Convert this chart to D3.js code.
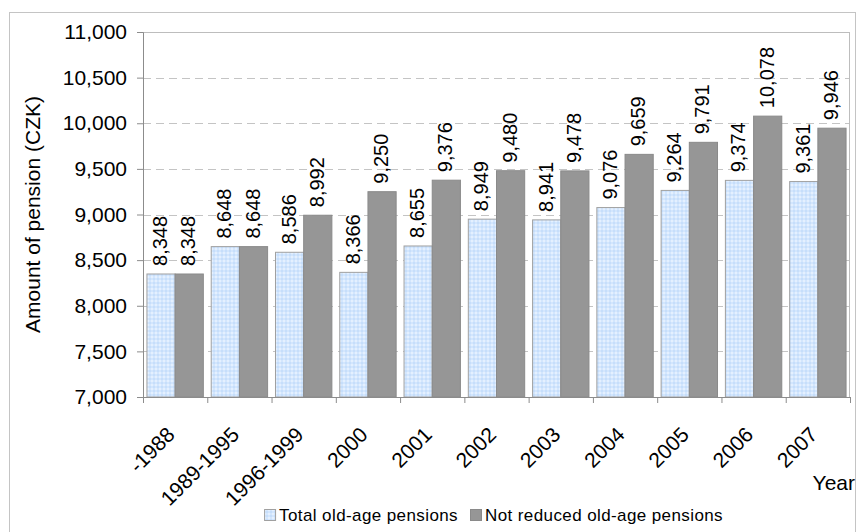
<!DOCTYPE html>
<html>
<head>
<meta charset="utf-8">
<script src="https://cdn.jsdelivr.net/npm/d3@7"></script>
<style>
  body { margin: 0; background: #fff; }
  svg { font-family: 'Liberation Sans', Arial, sans-serif; }
</style>
</head>
<body>
<div id="chart"></div>
<script>
const categories = ['-1988', '1989-1995', '1996-1999', '2000', '2001', '2002', '2003', '2004', '2005', '2006', '2007']
const totalPensions = [8348, 8648, 8586, 8366, 8655, 8949, 8941, 9076, 9264, 9374, 9361]
const notReduced = [8348, 8648, 8992, 9250, 9376, 9480, 9478, 9659, 9791, 10078, 9946]
const yTicks = [7000, 7500, 8000, 8500, 9000, 9500, 10000, 10500, 11000]
const seriesNames = ['Total old-age pensions', 'Not reduced old-age pensions']

const margin = { top: 32, left: 143, right: 8, bottom: 135 }
const width = 858 - margin.left - margin.right
const height = 532 - margin.top - margin.bottom

const svgRoot = d3
  .select('#chart')
  .append('svg')
  .attr('width', 858)
  .attr('height', 532)

const defs = svgRoot.append('defs')
const pat = defs
  .append('pattern')
  .attr('id', 'dots')
  .attr('width', 4)
  .attr('height', 4)
  .attr('patternUnits', 'userSpaceOnUse')
pat.append('rect').attr('width', 4).attr('height', 4).attr('fill', '#d3e6fd')
pat.append('rect').attr('width', 2).attr('height', 2).attr('fill', '#e4f0ff')
pat.append('rect').attr('x', 2).attr('y', 2).attr('width', 2).attr('height', 2).attr('fill', '#c6defb')

// outer chart border
svgRoot
  .append('rect')
  .attr('x', 9.5)
  .attr('y', 12.5)
  .attr('width', 846)
  .attr('height', 530)
  .attr('fill', 'none')
  .attr('stroke', '#c4c4c4')

const svg = svgRoot
  .append('g')
  .attr('transform', 'translate(' + margin.left + ',' + margin.top + ')')

const xPositionScale = d3.scaleBand().domain(categories).range([0, width])
const subScale = d3
  .scaleBand()
  .domain([0, 1])
  .range([0, xPositionScale.bandwidth()])
  .paddingOuter(0.14)
const yPositionScale = d3.scaleLinear().domain([7000, 11000]).range([height, 0])

// grid
svg
  .selectAll('.grid')
  .data(yTicks.filter(d => d > 7000 && d < 11000))
  .enter()
  .append('line')
  .attr('class', 'grid')
  .attr('x1', 0)
  .attr('x2', width)
  .attr('y1', d => Math.round(yPositionScale(d)) + 0.5)
  .attr('y2', d => Math.round(yPositionScale(d)) + 0.5)
  .attr('stroke', '#c4c4c4')
  .attr('stroke-dasharray', '8,5')

// plot border
svg
  .append('rect')
  .attr('x', 0.5)
  .attr('y', 0.5)
  .attr('width', width - 1)
  .attr('height', height)
  .attr('fill', 'none')
  .attr('stroke', '#bdbdbd')

const fmt = d3.format(',')

const seriesData = [totalPensions, notReduced]
const fills = ['url(#dots)', '#969696']
const strokes = ['#a0a0a0', '#8a8a8a']

seriesData.forEach((values, s) => {
  svg
    .selectAll('.bar-' + s)
    .data(values)
    .enter()
    .append('rect')
    .attr('class', 'bar-' + s)
    .attr('x', (d, i) => xPositionScale(categories[i]) + subScale(s))
    .attr('width', subScale.bandwidth())
    .attr('y', d => yPositionScale(d))
    .attr('height', d => height - yPositionScale(d))
    .attr('fill', fills[s])
    .attr('stroke', strokes[s])
    .attr('stroke-width', 1)

  const labels = svg
    .selectAll('.label-' + s)
    .data(values)
    .enter()
    .append('g')
    .attr('class', 'label-' + s)
    .attr('transform', (d, i) => {
      const x = xPositionScale(categories[i]) + subScale(s) + subScale.bandwidth() / 2 + 6
      const y = yPositionScale(d) - 8
      return 'translate(' + x + ',' + y + ')'
    })
  labels
    .append('text')
    .attr('transform', 'rotate(-90)')
    .attr('font-size', 20)
    .attr('fill', '#000')
    .text(d => fmt(d))
})

// y axis
const yAxis = d3
  .axisLeft(yPositionScale)
  .tickValues(yTicks)
  .tickFormat(fmt)
  .tickSize(6)
  .tickPadding(10)
svg
  .append('g')
  .attr('class', 'axis y-axis')
  .call(yAxis)
  .call(g => g.selectAll('line, path').attr('stroke', '#8c8c8c'))
  .call(g => g.selectAll('text').attr('font-size', 21).attr('fill', '#000').attr('font-family', null))

// x axis ticks at category boundaries
const xg = svg
  .append('g')
  .attr('class', 'axis x-axis')
  .attr('transform', 'translate(0,' + height + ')')
xg.append('line')
  .attr('x1', 0)
  .attr('x2', width)
  .attr('y1', 0.5)
  .attr('y2', 0.5)
  .attr('stroke', '#8c8c8c')
xg.selectAll('.tick')
  .data(categories.concat(['end']))
  .enter()
  .append('line')
  .attr('class', 'tick')
  .attr('x1', (d, i) => (i < categories.length ? xPositionScale(d) : width) + 0.5)
  .attr('x2', (d, i) => (i < categories.length ? xPositionScale(d) : width) + 0.5)
  .attr('y1', 0)
  .attr('y2', 6)
  .attr('stroke', '#8c8c8c')
xg.selectAll('.xlabel')
  .data(categories)
  .enter()
  .append('g')
  .attr('class', 'xlabel')
  .attr('transform', d => 'translate(' + (xPositionScale(d) + xPositionScale.bandwidth() / 2 + 1) + ',39)')
  .append('text')
  .attr('transform', 'rotate(-45)')
  .attr('text-anchor', 'end')
  .attr('font-size', 21)
  .attr('fill', '#000')
  .text(d => d)

// axis titles
svgRoot
  .append('text')
  .attr('transform', 'translate(40,' + (margin.top + height / 2) + ') rotate(-90)')
  .attr('text-anchor', 'middle')
  .attr('font-size', 21)
  .text('Amount of pension (CZK)')

svgRoot
  .append('text')
  .attr('x', 855)
  .attr('y', 490)
  .attr('text-anchor', 'end')
  .attr('font-size', 21)
  .text('Year')

// legend: second square sits at x=470, first item ends just before it
const legend = svgRoot.append('g').attr('transform', 'translate(0,509)')
const item2 = legend.append('g').attr('transform', 'translate(470,0)')
item2.append('rect')
  .attr('x', 0.5).attr('y', 0.5).attr('width', 11).attr('height', 11)
  .attr('fill', fills[1]).attr('stroke', strokes[1])
item2.append('text')
  .attr('x', 15).attr('y', 12)
  .attr('font-size', 17).attr('letter-spacing', 0.4)
  .text(seriesNames[1])

const item1 = legend.append('g')
const t1 = item1.append('text')
  .attr('y', 12)
  .attr('font-size', 17).attr('letter-spacing', 0.4)
  .text(seriesNames[0])
const t1Len = t1.node().getComputedTextLength()
const x1 = 458 - t1Len
t1.attr('x', x1)
item1.append('rect')
  .attr('x', x1 - 15 + 0.5).attr('y', 0.5).attr('width', 11).attr('height', 11)
  .attr('fill', fills[0]).attr('stroke', strokes[0])
</script>
</body>
</html>
